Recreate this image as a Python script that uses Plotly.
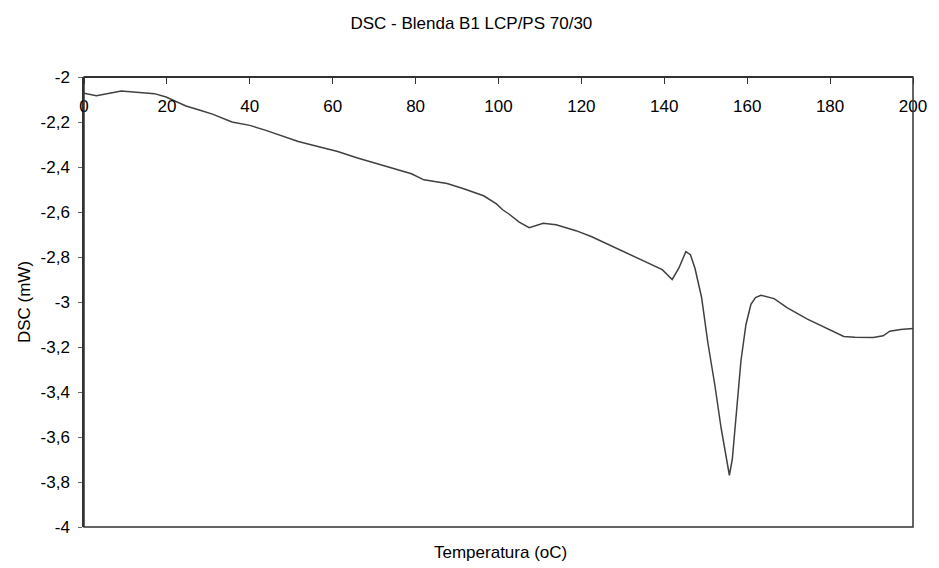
import plotly.graph_objects as go

temperature = [0, 3, 9, 14, 17, 19.8, 22, 24.6, 28, 31, 35.7, 40, 43.7, 48, 51.7, 55.7,
               61.2, 66, 70.8, 75.6, 79, 82, 87.6, 91.6, 96.4, 99.5, 101, 102.6, 105,
               107.4, 110.8, 113.9, 118.7, 122.5, 126.6, 130.5, 134.7, 139.5, 141.9,
               143.5, 145.2, 146.3, 147.4, 149, 150.5, 152.2, 153.7, 155, 155.7, 156.4,
               157, 157.7, 158.5, 159.7, 160.9, 162, 163.3, 166.5, 169.6, 174.4, 178.5,
               183.3, 186, 190.4, 192.8, 194.4, 197, 200]
dsc_mw = [-2.072, -2.083, -2.062, -2.070, -2.074, -2.089, -2.108, -2.129, -2.148, -2.165,
          -2.200, -2.215, -2.236, -2.262, -2.287, -2.306, -2.331, -2.360, -2.386, -2.410,
          -2.430, -2.457, -2.473, -2.497, -2.528, -2.564, -2.590, -2.610, -2.645, -2.670,
          -2.650, -2.657, -2.683, -2.710, -2.745, -2.780, -2.816, -2.856, -2.900, -2.850,
          -2.776, -2.790, -2.850, -2.980, -3.180, -3.370, -3.560, -3.710, -3.770, -3.700,
          -3.580, -3.430, -3.260, -3.100, -3.010, -2.980, -2.970, -2.985, -3.025, -3.075,
          -3.110, -3.153, -3.157, -3.158, -3.150, -3.130, -3.122, -3.118]

x_tick_vals = [0, 20, 40, 60, 80, 100, 120, 140, 160, 180, 200]
x_tick_text = ["0", "20", "40", "60", "80", "100", "120", "140", "160", "180", "200"]
y_tick_vals = [-2, -2.2, -2.4, -2.6, -2.8, -3, -3.2, -3.4, -3.6, -3.8, -4]
y_tick_text = ["-2", "-2,2", "-2,4", "-2,6", "-2,8", "-3", "-3,2", "-3,4", "-3,6", "-3,8", "-4"]

FONT = "Liberation Sans, Arial, sans-serif"

fig = go.Figure()
fig.add_trace(go.Scatter(
    x=temperature, y=dsc_mw, mode="lines",
    line=dict(color="#404040", width=1.5),
    showlegend=False, hoverinfo="x+y",
))

fig.update_layout(
    width=939, height=568,
    margin=dict(l=84, r=19, t=77, b=41),
    paper_bgcolor="white", plot_bgcolor="white",
    font=dict(family=FONT, size=17, color="black"),
    title=dict(text="DSC - Blenda B1 LCP/PS 70/30", x=0.502, xanchor="center",
               y=0.96, yanchor="middle", font=dict(family=FONT, size=17, color="black")),
    xaxis=dict(
        range=[0, 200], tickvals=x_tick_vals, ticktext=x_tick_text,
        anchor="free", position=1, side="bottom",
        showline=True, linecolor="#333", linewidth=1.5,
        ticks="outside", ticklen=6, tickcolor="#333", tickwidth=1,
        ticklabelstandoff=8,
        showgrid=False, zeroline=False,
        tickfont=dict(family=FONT, size=17, color="black"),
    ),
    yaxis=dict(
        range=[-4, -2], tickvals=y_tick_vals, ticktext=y_tick_text,
        showline=True, linecolor="#333", linewidth=1.5,
        ticks="outside", ticklen=4, tickcolor="#666",
        ticklabelstandoff=5,
        showgrid=False, zeroline=False,
        tickfont=dict(family=FONT, size=17, color="black"),
        title=dict(text="DSC (mW)", font=dict(family=FONT, size=17, color="black"), standoff=6),
    ),
    shapes=[dict(type="rect", xref="paper", yref="paper", x0=0, x1=1, y0=0, y1=1,
                 line=dict(color="#333", width=1.5), layer="above")],
    annotations=[dict(text="Temperatura (oC)", xref="paper", yref="paper", x=0.502, y=-0.057,
                      xanchor="center", yanchor="middle", showarrow=False,
                      font=dict(family=FONT, size=17, color="black"))],
)

fig.write_html("out.html")
